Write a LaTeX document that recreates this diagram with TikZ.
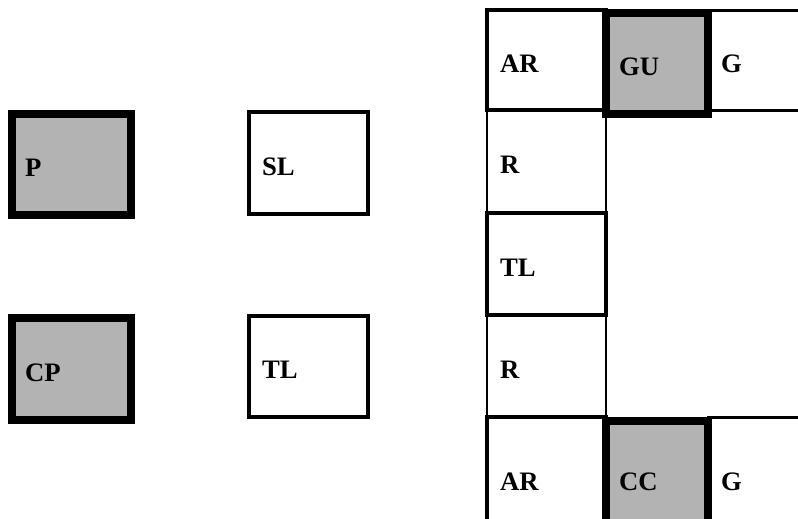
\documentclass[tikz,border=0pt]{standalone}
\usepackage{fontspec}
\setmainfont{Liberation Serif}

\tikzset{every picture/.style={line width=0.75pt}}
\tikzset{
	cell/.style={draw, rectangle, inner xsep=9.75pt, inner ysep=0pt, align=left,
		text height=18pt, text depth=0pt, font=\fontsize{20}{24}\selectfont\bfseries},
	wide/.style={cell, text width=69.75pt},
	narrow/.style={cell, text width=57pt},
	grey/.style={fill={rgb, 255:red, 179; green, 179; blue, 179 }, line width=6pt}}

\begin{document}
\begin{tikzpicture}[x=0.75pt,y=0.75pt,yscale=-1,xscale=1]
	\useasboundingbox (0,0) rectangle (798,518);

	%Shape: Square [left column]
	\node [wide, grey, minimum height=75.75pt] (p) at (71.5,164.5) {P};
	\node [wide, grey, minimum height=76.5pt] (cp) at (71.5,369) {CP};
	%Shape: Rectangle [middle column]
	\node [wide, line width=3pt, minimum height=76.5pt] (sl) at (308.5,163) {SL};
	\node [wide, line width=3pt, minimum height=75.75pt] (tl) at (308.5,366.5) {TL};

	%Shape: Rectangle [grid, top row]
	\node [wide, line width=2.5pt, minimum height=75pt] (arTop) at (546.5,60) {AR};
	\node [wide, line width=2.25pt, minimum height=75pt] (gTop) at (767.5,60) {G};
	%Shape: Rectangle [grid, column]
	\node [wide, line width=1.5pt, minimum height=77.25pt] (rTop) at (546.5,161.5) {R};
	\node [wide, line width=1.5pt, minimum height=76.5pt] (rBot) at (546.5,366) {R};
	\node [wide, line width=2.5pt, minimum height=76.5pt] (tlGrid) at (546.5,264) {TL};
	%Shape: Rectangle [grid, bottom row]
	\node [wide, line width=2.5pt, minimum height=91.5pt] (arBot) at (546.5,478) {AR};
	\node [wide, line width=2.25pt, minimum height=91.5pt] (gBot) at (767.5,478) {G};

	%Shape: Square [grey, on top of the grid]
	\node [narrow, grey, minimum height=75.75pt] (gu) at (657,63) {GU};
	\node [narrow, grey, minimum height=85.5pt] (cc) at (657,478) {CC};

\end{tikzpicture}
\end{document}
